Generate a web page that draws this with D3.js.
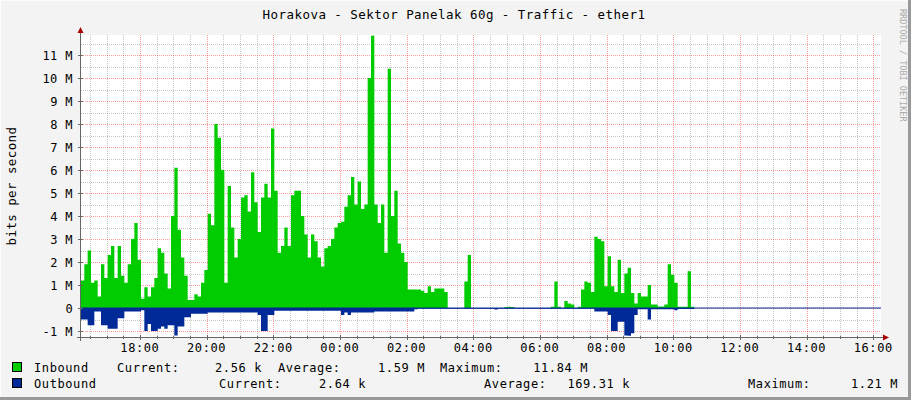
<!DOCTYPE html>
<html><head><meta charset="utf-8">
<script src="https://cdn.jsdelivr.net/npm/d3@7"></script>
<style>body{margin:0;background:#f3f3f3}svg{display:block}text{font-family:"DejaVu Sans Mono",monospace}</style>
</head><body><svg id="c" width="911" height="400"></svg>
<script>
const title = "Horakova - Sektor Panelak 60g - Traffic - ether1";
const yTicks = [-1,0,1,2,3,4,5,6,7,8,9,10,11];
const xTickLabels = ["18:00","20:00","22:00","00:00","02:00","04:00","06:00","08:00","10:00","12:00","14:00","16:00"];
const stepMinutes = 6;
// Inbound, Mbit/s, 6-minute steps starting 16:14
const inbound = [
1.2,1.9,2.5,1.1,1.2,0.5,1.9,1.3,2.3,2.7,
1.3,2.7,1.4,1.1,1.9,3.0,3.7,2.1,0.4,0.9,
0.5,0.9,1.3,2.6,2.4,1.5,0.85,4.0,6.1,3.4,
2.2,1.4,0.35,0.35,0.6,0.5,1.1,1.65,4.1,3.6,
8.0,7.4,6.0,1.1,5.3,3.5,2.2,3.0,4.8,4.9,
4.2,5.9,4.6,3.3,4.8,5.4,4.8,7.8,5.1,2.4,
2.7,3.5,2.7,4.9,5.1,5.1,4.0,3.2,2.2,3.2,
2.9,2.2,1.8,2.6,2.7,3.0,3.5,3.7,3.75,4.4,
4.9,5.7,4.5,5.5,4.3,4.5,10.0,11.84,4.5,3.7,
4.5,2.4,10.4,4.0,5.1,2.8,2.4,2.0,0.8,0.8,
0.8,0.8,0.75,0.65,0.95,0.7,0.85,0.85,0.85,0.7,
0,0,0,0,0,1.15,2.3,
0,0,0,0,0,0,0,0,0,0,0.04,0.05,0.04,0,0,0,0,0,0,0,0,0,0,0,
0.05,1.15,0.05,0,0.3,0.2,0.15,0,0.05,0.8,
1.15,1.1,0.7,3.1,3.0,2.9,0.95,2.25,0.95,0.7,
2.1,0.65,1.5,1.75,0.65,0.2,0.65,0.5,0.5,1.0,
0.15,0.15,0.07,0.07,0.15,1.9,1.45,1.1,0.05,0.05,
0.05,1.6,0.05,
0,0,0,0,0,0,0,0,0,0,0,0,0,0,0,0,0,0,0,0,0,0,0,0,0,0,0,0,
0,0,0,0,0,0,0,0,0,0,0,0,0,0,0,0,0,0,0,0,0,0,0,0,0,0,0,0.003
];
// Outbound magnitude, Mbit/s
const outbound = [
0.5,0.5,0.75,0.75,0.15,0.15,0.75,0.75,0.9,0.9,
0.9,0.45,0.45,0.15,0.15,0.15,0.15,0.15,0.1,1.0,
0.7,1.0,1.0,0.9,0.8,0.9,0.75,0.75,1.2,0.8,
0.8,0.4,0.4,0.25,0.25,0.25,0.25,0.25,0.2,0.2,
0.2,0.2,0.2,0.2,0.2,0.2,0.2,0.2,0.2,0.2,
0.2,0.2,0.2,0.3,1.0,1.0,0.3,0.3,0.12,0.12,
0.12,0.12,0.12,0.12,0.12,0.12,0.12,0.12,0.12,0.12,
0.12,0.12,0.12,0.12,0.12,0.12,0.12,0.12,0.3,0.2,
0.3,0.2,0.2,0.2,0.2,0.2,0.2,0.2,0.15,0.15,
0.15,0.15,0.15,0.15,0.15,0.15,0.15,0.15,0.15,0.15,
0.05,0.03,0.03,0.03,0.03,0.03,0.03,0.03,0.03,0.03,
0.03,0.03,0.03,0.03,0.03,0.03,0.03,0.03,0.03,0.03,
0.03,0.03,0.03,0.03,0.06,0.03,0.03,0.03,0.03,0.03,
0.03,0.03,0.03,0.03,0.03,0.03,0.03,0.03,0.03,0.03,
0.03,0.03,0.03,0.03,0.03,0.03,0.03,0.03,0.03,0.03,
0.03,0.03,0.03,0.03,0.15,0.15,0.15,0.15,0.3,1.0,
1.0,0.6,0.6,1.2,1.21,1.1,0.3,0.05,0.05,0.05,
0.5,0.05,0.05,0.05,0.05,0.05,0.05,0.05,0.1,0.04,
0.04,0.04,0.04,0.04,
0.003,0.003,0.003,0.003,0.003,0.003,0.003,0.003,0.003,0.003,0.003,0.003,0.003,0.003,
0.003,0.003,0.003,0.003,0.003,0.003,0.003,0.003,0.003,0.003,0.003,0.003,0.003,0.003,
0.003,0.003,0.003,0.003,0.003,0.003,0.003,0.003,0.003,0.003,0.003,0.003,0.003,0.003,
0.003,0.003,0.003,0.003,0.003,0.003,0.003,0.003,0.003,0.003,0.003,0.003,0.003,0.0026
];
const legendIn = {name:"Inbound", cur:"2.56 k", avg:"1.59 M", max:"11.84 M"};
const legendOut = {name:"Outbound", cur:"2.64 k", avg:"169.31 k", max:"1.21 M"};

const svg = d3.select("#c");
const L=81,R=881,T=35,B=337;
const t0 = new Date(2024,0,1,16,14);
const t1 = new Date(t0.getTime()+24*3600e3);
const x = d3.scaleTime().domain([t0,t1]).range([L,R]);
const y = d3.scaleLinear().domain([-1.26,11.87]).range([B,T]);
const tAt = i => new Date(t0.getTime()+i*stepMinutes*60e3);

// frame
svg.append("rect").attr("x",0).attr("y",0).attr("width",911).attr("height",400).attr("fill","#f3f3f3");
svg.append("line").attr("x1",0).attr("x2",911).attr("y1",0.5).attr("y2",0.5).attr("stroke","#fcfcfc");
svg.append("line").attr("x1",0.5).attr("x2",0.5).attr("y1",0).attr("y2",400).attr("stroke","#fcfcfc");
svg.append("line").attr("x1",0).attr("x2",911).attr("y1",398.5).attr("y2",398.5).attr("stroke","#999").attr("stroke-width",3);
svg.append("line").attr("x1",909.5).attr("x2",909.5).attr("y1",0).attr("y2",400).attr("stroke","#999").attr("stroke-width",3);
svg.append("rect").attr("x",L).attr("y",T).attr("width",R-L).attr("height",B-T).attr("fill","#fff");

// grid
const g = svg.append("g");
const minorX = d3.timeMinute.every(30).range(t0,t1);
minorX.forEach(d=>{const X=Math.round(x(d))+0.5;
  const major = d.getMinutes()===0 && d.getHours()%2===0;
  g.append("line").attr("x1",X).attr("x2",X).attr("y1",T).attr("y2",B)
   .attr("stroke",major?"rgba(255,0,0,0.4)":"rgba(0,0,0,0.22)").attr("stroke-dasharray","1,1");});
d3.range(-1,12,0.5).forEach(v=>{const Y=Math.round(y(v))+0.5;const major=Number.isInteger(v);
  g.append("line").attr("x1",L).attr("x2",R).attr("y1",Y).attr("y2",Y)
   .attr("stroke",major?"rgba(255,0,0,0.4)":"rgba(0,0,0,0.22)").attr("stroke-dasharray","1,1");});

// areas
const aIn = d3.area().x((d,i)=>x(tAt(i))).y0(y(0)).y1(d=>y(d)).curve(d3.curveStepAfter);
const aOut = d3.area().x((d,i)=>x(tAt(i))).y0(y(0)).y1(d=>y(-d)).curve(d3.curveStepAfter);
svg.append("path").datum(inbound.concat([inbound[inbound.length-1]])).attr("d",aIn).attr("fill","#00CC00");
svg.append("path").datum(outbound.concat([outbound[outbound.length-1]])).attr("d",aOut).attr("fill","#002A97");
svg.append("line").attr("x1",L).attr("x2",R).attr("y1",y(0)).attr("y2",y(0)).attr("stroke","#002A97").attr("stroke-width",1);

// axes
const axc="#666";
svg.append("line").attr("x1",L-0.5).attr("x2",L-0.5).attr("y1",T-5).attr("y2",B+4).attr("stroke",axc);
svg.append("line").attr("x1",L-4).attr("x2",R+4).attr("y1",B+0.5).attr("y2",B+0.5).attr("stroke",axc);
svg.append("path").attr("d",`M${L-3.5},${T-2}L${L-0.5},${T-8}L${L+2.5},${T-2}Z`).attr("fill","#a00");
svg.append("path").attr("d",`M${R+2},${B-2.5}L${R+8},${B+0.5}L${R+2},${B+3.5}Z`).attr("fill","#a00");
// ticks
minorX.forEach(d=>{const X=Math.round(x(d))+0.5;const major=d.getMinutes()===0&&d.getHours()%2===0;
  svg.append("line").attr("x1",X).attr("x2",X).attr("y1",B-(major?2:1)).attr("y2",B+(major?3:2)).attr("stroke",axc);});
yTicks.forEach(v=>{const Y=Math.round(y(v))+0.5;
  svg.append("line").attr("x1",L-3).attr("x2",L+2).attr("y1",Y).attr("y2",Y).attr("stroke",axc);
  svg.append("text").attr("x",73).attr("y",Y+4).attr("text-anchor","end").attr("font-size",12)
    .attr("letter-spacing",0.4).attr("fill","#000").text(v===0?"0":v+" M");});
const majorTimes = d3.timeHour.every(2).range(t0,t1);
majorTimes.forEach((d,i)=>svg.append("text").attr("x",x(d)).attr("y",352).attr("text-anchor","middle")
  .attr("font-size",12).attr("letter-spacing",0.6).text(xTickLabels[i]));

// titles
svg.append("text").attr("x",454).attr("y",19).attr("text-anchor","middle").attr("font-size",12.5).attr("letter-spacing",0.45).text(title);
svg.append("text").attr("transform","translate(16,186) rotate(-90)").attr("text-anchor","middle").attr("font-size",12.5).attr("letter-spacing",0.4).text("bits per second");
svg.append("text").attr("transform","translate(900,9) rotate(90)").attr("text-anchor","start").attr("font-size",8.5).attr("fill","#aaa").text("RRDTOOL / TOBI OETIKER");

// legend
function legend(yy,col,items){
  svg.append("rect").attr("x",12.5).attr("y",yy-9.5).attr("width",9).attr("height",9).attr("fill",col).attr("stroke","#000");
  items.forEach(([tx,anchor,s])=>svg.append("text").attr("x",tx).attr("y",yy).attr("text-anchor",anchor)
    .attr("font-size",12).attr("letter-spacing",0.6).text(s));
}
legend(372,"#00CC00",[[34,"start",legendIn.name],[117,"start","Current:"],[262,"end",legendIn.cur],[278,"start","Average:"],[425,"end",legendIn.avg],[440,"start","Maximum:"],[588,"end",legendIn.max]]);
legend(388,"#002A97",[[34,"start",legendOut.name],[219,"start","Current:"],[366,"end",legendOut.cur],[484,"start","Average:"],[630,"end",legendOut.avg],[748,"start","Maximum:"],[898,"end",legendOut.max]]);
</script></body></html>
